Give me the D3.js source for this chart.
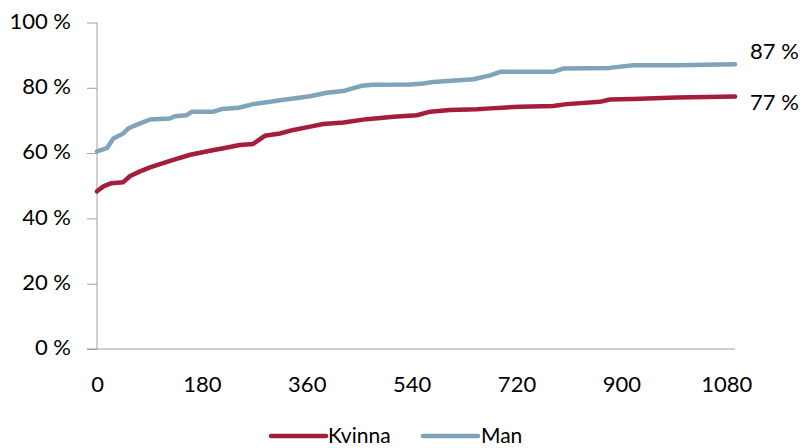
<!DOCTYPE html>
<html>
<head>
<meta charset="utf-8">
<script src="https://cdn.jsdelivr.net/npm/d3@7"></script>
<style>
  html, body { margin: 0; padding: 0; background: #fff; }
  svg { display: block; }
  text { font-family: Lato, "Open Sans", sans-serif; fill: #000; }
</style>
</head>
<body>
<svg id="chart" width="804" height="448"></svg>
<script>
// ---- data (days, percent) ----
const seriesNames = ["Kvinna", "Man"];
const xTicks = [0, 180, 360, 540, 720, 900, 1080];
const yTicks = [0, 20, 40, 60, 80, 100];

const kvinnaDays = [0, 11, 25, 45, 57, 74, 91, 108, 131, 160, 194, 217, 245, 268, 288, 314, 337, 366, 388, 423, 463, 509, 549, 572, 606, 652, 675, 703, 726, 783, 806, 863, 880, 920, 995, 1095];
const kvinnaVals = [48.3, 49.8, 50.8, 51.1, 53.0, 54.4, 55.6, 56.6, 57.9, 59.5, 60.7, 61.5, 62.5, 62.8, 65.3, 66.0, 67.1, 68.1, 68.9, 69.4, 70.4, 71.1, 71.6, 72.7, 73.2, 73.4, 73.7, 74.0, 74.2, 74.4, 75.0, 75.7, 76.4, 76.6, 77.0, 77.3];

const manDays = [0, 17, 28, 45, 54, 74, 91, 125, 134, 154, 163, 200, 214, 243, 268, 297, 314, 337, 366, 394, 423, 434, 454, 474, 537, 560, 577, 646, 675, 692, 726, 783, 800, 880, 920, 995, 1095];
const manVals = [60.5, 61.5, 64.5, 66.0, 67.6, 69.1, 70.3, 70.6, 71.3, 71.6, 72.7, 72.7, 73.5, 73.9, 75.0, 75.7, 76.2, 76.7, 77.4, 78.5, 79.0, 79.6, 80.6, 80.9, 81.0, 81.3, 81.8, 82.6, 83.8, 84.9, 84.9, 84.9, 85.9, 86.1, 86.9, 86.9, 87.2];

const endLabels = ["77 %", "87 %"];
const colors = ["#A51D3C", "#7FA3BB"];

// ---- layout ----
const svg = d3.select("#chart");
const x = d3.scaleLinear().domain([0, 1095]).range([97, 735]);
const y = d3.scaleLinear().domain([0, 100]).range([349, 22.5]);
const axisColor = "#a0a0a0";

// y axis
const yAxis = d3.axisLeft(y).tickValues(yTicks).tickSize(10).tickFormat(d => d + " %");
const gy = svg.append("g").attr("transform", "translate(97,0)").call(yAxis);
gy.select(".domain").attr("stroke", axisColor).attr("d", `M0,${y(100)}V${y(0)}`);
gy.selectAll(".tick line").attr("stroke", axisColor);
gy.selectAll(".tick text")
  .attr("x", -26).attr("dy", null).attr("y", 5.8)
  .style("font-size", "22px").style("font-family", "Lato, 'Open Sans', sans-serif")
  .attr("fill", "#000");

// x axis
const xAxis = d3.axisBottom(x).tickValues(xTicks).tickSize(0).tickFormat(d => d);
const gx = svg.append("g").attr("transform", `translate(0,${y(0)})`).call(xAxis);
gx.select(".domain").attr("stroke", axisColor).attr("d", `M87,0H${x(1095)}`);
gx.selectAll(".tick text")
  .attr("y", 42.7).attr("dy", null)
  .style("font-size", "22px").style("font-family", "Lato, 'Open Sans', sans-serif")
  .attr("fill", "#000");

// lines
const series = [
  { name: seriesNames[0], days: kvinnaDays, vals: kvinnaVals, color: colors[0], label: endLabels[0], dy: 13 },
  { name: seriesNames[1], days: manDays, vals: manVals, color: colors[1], label: endLabels[1], dy: -5 }
];
const line = d3.line().x(d => x(d[0])).y(d => y(d[1]));

series.forEach(s => {
  const pts = s.days.map((d, i) => [d, s.vals[i]]);
  svg.append("path")
    .datum(pts)
    .attr("d", line)
    .attr("fill", "none")
    .attr("stroke", s.color)
    .attr("stroke-width", 4.5)
    .attr("stroke-linecap", "round")
    .attr("stroke-linejoin", "round");
  const last = pts[pts.length - 1];
  svg.append("text")
    .attr("x", x(last[0]) + 15)
    .attr("y", y(last[1]) + s.dy)
    .style("font-size", "22px")
    .text(s.label);
});

// legend
const legend = [
  { name: seriesNames[0], color: colors[0], x1: 271, x2: 326, tx: 328 },
  { name: seriesNames[1], color: colors[1], x1: 423, x2: 478, tx: 481 }
];
legend.forEach(l => {
  svg.append("line")
    .attr("x1", l.x1).attr("x2", l.x2).attr("y1", 436).attr("y2", 436)
    .attr("stroke", l.color).attr("stroke-width", 4.5).attr("stroke-linecap", "round");
  svg.append("text")
    .attr("x", l.tx).attr("y", 443)
    .style("font-size", "21px")
    .text(l.name);
});
</script>
</body>
</html>
